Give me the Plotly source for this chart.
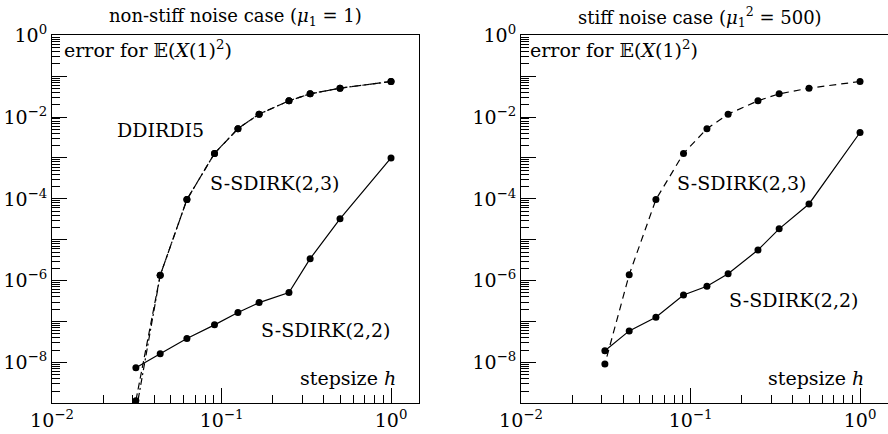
import plotly.graph_objects as go

# step sizes h = 1/N
N_steps = [1, 2, 3, 4, 6, 8, 11, 16, 23, 32]
h = [1.0 / n for n in N_steps]

# non-stiff noise case (left panel)
left_ddirdi5 = [7.4e-2, 5.1e-2, 3.7e-2, 2.5e-2, 1.18e-2, 5.2e-3, 1.29e-3, 9.6e-5, 1.35e-6, 6.0e-10]
left_sdirk23 = [7.4e-2, 5.1e-2, 3.7e-2, 2.5e-2, 1.18e-2, 5.2e-3, 1.29e-3, 9.6e-5, 1.35e-6, 1.16e-9]
left_sdirk22 = [1.0e-3, 3.25e-5, 3.44e-6, 5.1e-7, 2.9e-7, 1.66e-7, 8.3e-8, 3.85e-8, 1.62e-8, 7.4e-9]

# stiff noise case (right panel)
right_sdirk23 = [7.4e-2, 5.1e-2, 3.7e-2, 2.5e-2, 1.18e-2, 5.2e-3, 1.29e-3, 9.6e-5, 1.4e-6, 9.1e-9]
right_sdirk22 = [4.2e-3, 7.5e-5, 1.85e-5, 5.6e-6, 1.48e-6, 7.3e-7, 4.46e-7, 1.27e-7, 5.9e-8, 1.92e-8]

# tick labels
x_major = [1e-2, 1e-1, 1e0]
x_labels = ["10<sup>\u22122</sup>", "10<sup>\u22121</sup>", "10<sup>0</sup>"]
y_major = [10.0 ** e for e in range(-9, 1)]
y_labels = ["" if e % 2 else "10<sup>%s</sup>" % (("\u2212" + str(-e)) if e < 0 else "0") for e in range(-9, 1)]
x_minor = [k * 10.0 ** e for e in (-2, -1) for k in range(2, 10)]
y_minor = [k * 10.0 ** e for e in range(-9, 0) for k in range(2, 10)]

FONT = "DejaVu Serif"
FS = 19

fig = go.Figure()

def add_line(x, y, xa, ya, dash):
    fig.add_trace(go.Scatter(
        x=x, y=y, xaxis=xa, yaxis=ya, mode="lines+markers",
        line=dict(color="black", width=1.2, dash=dash),
        marker=dict(color="black", size=7),
        showlegend=False))

add_line(h, left_sdirk23, "x", "y", "7px,4px")
add_line(h, left_ddirdi5, "x", "y", "7px,3px,2px,3px")
add_line(h, left_sdirk22, "x", "y", "solid")
add_line(h, right_sdirk23, "x2", "y2", "7px,5px")
add_line(h, right_sdirk22, "x2", "y2", "solid")

xrange = [-2, 0.165]
yrange = [-9, 0]

def xaxis_cfg(domain):
    return dict(type="log", range=xrange, domain=domain, automargin=False,
                showline=True, linecolor="black", linewidth=1, mirror=True,
                showgrid=False, zeroline=False,
                tickmode="array", tickvals=x_major, ticktext=x_labels,
                ticks="inside", ticklen=15, tickwidth=1, tickcolor="black",
                minor=dict(tickmode="array", tickvals=x_minor, ticks="inside",
                           ticklen=8, tickwidth=1, tickcolor="black", showgrid=False),
                tickfont=dict(family=FONT, size=FS, color="black"))

def yaxis_cfg(domain, anchor, mirror):
    return dict(type="log", range=yrange, domain=domain, anchor=anchor, automargin=False,
                showline=True, linecolor="black", linewidth=1, mirror=mirror,
                showgrid=False, zeroline=False,
                tickmode="array", tickvals=y_major, ticktext=y_labels,
                ticks="inside", ticklen=15, tickwidth=1, tickcolor="black",
                minor=dict(tickmode="array", tickvals=y_minor, ticks="inside",
                           ticklen=8, tickwidth=1, tickcolor="black", showgrid=False),
                tickfont=dict(family=FONT, size=FS, color="black"))

ydom = [0.0707, 0.9187]
fig.update_layout(
    width=888, height=434, autosize=False,
    margin=dict(l=0, r=0, t=0, b=0, pad=0, autoexpand=False),
    paper_bgcolor="white", plot_bgcolor="white",
    font=dict(family=FONT, size=FS, color="black"),
    xaxis=dict(xaxis_cfg([52 / 888, 419 / 888]), anchor="y"),
    yaxis=yaxis_cfg(ydom, "x", True),
    xaxis2=dict(xaxis_cfg([521 / 888, 1.0]), anchor="y2"),
    yaxis2=yaxis_cfg(ydom, "x2", False),
)

def ann(text, x, y, xref, yref, xanchor="left", size=FS):
    fig.add_annotation(text=text, x=x, y=y, xref=xref, yref=yref,
                       xanchor=xanchor, yanchor="middle", showarrow=False,
                       font=dict(family=FONT, size=size, color="black"))

# titles
ann("non-stiff noise case (<i>\u03bc</i><sub>1</sub> = 1)", 235 / 888, 1 - 17 / 434, "paper", "paper", "center", 18)
ann("stiff noise case (<i>\u03bc</i><sub>1</sub><sup>2</sup> = 500)", 700 / 888, 1 - 17 / 434, "paper", "paper", "center", 18)

err = "error for \U0001D53C(<i>X</i>(1)<sup>2</sup>)"
# left panel labels
ann(err, 0.027, 0.963, "x domain", "y domain")
ann("DDIRDI5", 0.172, 0.743, "x domain", "y domain")
ann("S-SDIRK(2,3)", 0.425, 0.598, "x domain", "y domain")
ann("S-SDIRK(2,2)", 0.564, 0.199, "x domain", "y domain")
ann("stepsize <i>h</i>", 0.943, 0.069, "x domain", "y domain", "right")
# right panel labels
ann(err, 0.019, 0.963, "x2 domain", "y2 domain")
ann("S-SDIRK(2,3)", 0.42, 0.598, "x2 domain", "y2 domain")
ann("S-SDIRK(2,2)", 0.561, 0.281, "x2 domain", "y2 domain")
ann("stepsize <i>h</i>", 0.94, 0.069, "x2 domain", "y2 domain", "right")

fig.write_html("out.html")
